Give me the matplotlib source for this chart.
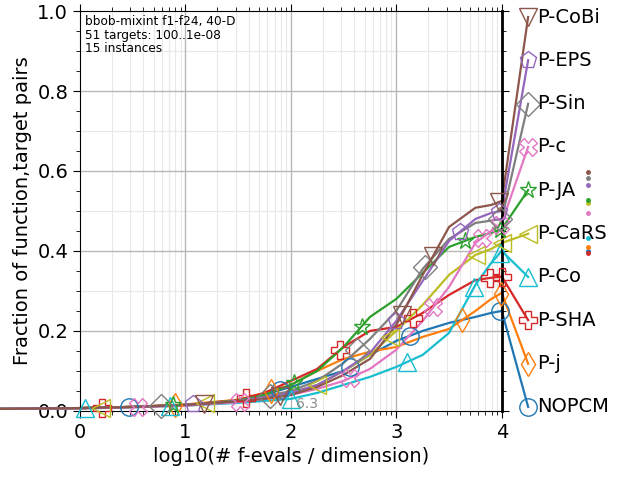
import numpy as np
import matplotlib
matplotlib.use("Agg")
import matplotlib.pyplot as plt
from matplotlib.ticker import MultipleLocator, FixedLocator

xs = [-0.75, 0, 0.5, 1, 1.5, 1.75, 2, 2.25, 2.5, 2.75, 3, 3.25, 3.5, 3.75, 3.9, 4]

algs = ["NOPCM", "P-j", "P-SHA", "P-Co", "P-CaRS", "P-JA", "P-c", "P-Sin", "P-EPS", "P-CoBi"]
colors = ["#1f77b4", "#ff7f0e", "#d62728", "#17becf", "#bcbd22",
          "#2ca02c", "#e377c2", "#7f7f7f", "#9467bd", "#8c564b"]
markers = ["o", "d", "P", "^", "<", "*", "X", "D", "p", "v"]

ecdf_nopcm = [0.005, 0.007, 0.01, 0.015, 0.025, 0.04, 0.06, 0.08, 0.10, 0.14, 0.175, 0.20, 0.22, 0.235, 0.245, 0.25]
ecdf_pj = [0.005, 0.007, 0.01, 0.016, 0.028, 0.045, 0.065, 0.10, 0.13, 0.148, 0.16, 0.185, 0.205, 0.25, 0.28, 0.295]
ecdf_psha = [0.005, 0.007, 0.01, 0.015, 0.027, 0.045, 0.075, 0.105, 0.16, 0.20, 0.21, 0.245, 0.29, 0.327, 0.333, 0.336]
ecdf_pco = [0.005, 0.006, 0.009, 0.013, 0.02, 0.025, 0.03, 0.045, 0.065, 0.085, 0.11, 0.14, 0.195, 0.315, 0.37, 0.40]
ecdf_pcars = [0.005, 0.007, 0.01, 0.015, 0.025, 0.035, 0.045, 0.065, 0.10, 0.14, 0.20, 0.265, 0.34, 0.39, 0.405, 0.42]
ecdf_pja = [0.005, 0.007, 0.01, 0.015, 0.026, 0.04, 0.065, 0.10, 0.16, 0.235, 0.28, 0.345, 0.41, 0.435, 0.445, 0.455]
ecdf_pc = [0.005, 0.006, 0.009, 0.013, 0.022, 0.03, 0.04, 0.055, 0.075, 0.105, 0.153, 0.225, 0.31, 0.42, 0.45, 0.47]
ecdf_psin = [0.005, 0.007, 0.01, 0.015, 0.025, 0.035, 0.05, 0.075, 0.12, 0.18, 0.25, 0.355, 0.43, 0.47, 0.476, 0.48]
ecdf_peps = [0.005, 0.007, 0.01, 0.015, 0.024, 0.033, 0.045, 0.065, 0.10, 0.145, 0.225, 0.325, 0.425, 0.48, 0.495, 0.50]
ecdf_pcobi = [0.005, 0.007, 0.01, 0.015, 0.024, 0.03, 0.04, 0.06, 0.09, 0.13, 0.215, 0.34, 0.46, 0.508, 0.515, 0.525]
ecdfs = [ecdf_nopcm, ecdf_pj, ecdf_psha, ecdf_pco, ecdf_pcars,
         ecdf_pja, ecdf_pc, ecdf_psin, ecdf_peps, ecdf_pcobi]

# where the markers sit along each curve (x only)
marker_x = [
    [0.46, 1.9, 2.56, 3.13, 3.98],
    [0.9, 1.81, 3.62, 3.99],
    [0.21, 1.57, 2.47, 3.16, 3.89, 4.0],
    [0.05, 0.85, 2.0, 3.1, 3.74, 3.98],
    [0.2, 1.19, 2.25, 2.94, 3.76, 4.0],
    [0.88, 2.03, 2.67, 3.65, 3.98],
    [0.55, 1.52, 2.56, 3.35, 3.81, 3.98],
    [0.77, 1.8, 2.63, 3.27, 3.98],
    [1.07, 3.0, 3.6, 3.97],
    [1.18, 1.9, 3.05, 3.35, 3.97],
]

# label heights on the right (NOPCM at bottom ... P-CoBi at top)
label_y = [0.01, 0.118, 0.227, 0.335, 0.443, 0.552, 0.66, 0.768, 0.877, 0.985]
# small dots at far right
dot_y = [0.40, 0.41, 0.395, 0.4325, 0.52, 0.5275, 0.495, 0.583, 0.565, 0.598]

fig = plt.figure(figsize=(6.4, 4.8), dpi=100)
ax = fig.add_axes([0.125, 0.144, 0.659, 0.833])

# grid
for k in range(4):
    for m in range(2, 10):
        ax.axvline(k + np.log10(m), color="#e8e8e8", lw=0.8, zorder=0)
for yv in [0.1, 0.3, 0.5, 0.7, 0.9]:
    ax.axhline(yv, color="#e8e8e8", lw=0.8, zorder=0)
for xv in [1, 2, 3]:
    ax.axvline(xv, color="#b8b8b8", lw=1.0, zorder=0.5)
for yv in [0.2, 0.4, 0.6, 0.8]:
    ax.axhline(yv, color="#b8b8b8", lw=1.0, zorder=0.5)

for i, name in enumerate(algs):
    c = colors[i]
    ax.plot(xs, ecdfs[i], color=c, lw=1.6, clip_on=False, zorder=2)
    mx = np.array(marker_x[i])
    my = np.interp(mx, xs, ecdfs[i])
    ax.plot(mx, my, ls="none", marker=markers[i], ms=12.5, mfc="none",
            mec=c, mew=1.0, clip_on=False, zorder=3)
    # line to the label on the right
    ax.plot([4, 4.25], [ecdfs[i][-1], label_y[i]], color=c, lw=1.6,
            clip_on=False, zorder=2)
    ax.plot(4.25, label_y[i], ls="none", marker=markers[i], ms=12.5, mfc="none",
            mec=c, mew=1.0, clip_on=False, zorder=3)
    ax.text(4.34, label_y[i], name, fontsize=14, va="center", ha="left")
    ax.plot(4.82, dot_y[i], ls="none", marker="o", ms=2.5, color=c, clip_on=False)

ax.text(2.05, 0.017, "6.3", color="#8a8a8a", fontsize=10, va="center")

ax.text(0.05, 0.99, "bbob-mixint f1-f24, 40-D\n51 targets: 100..1e-08\n15 instances",
        fontsize=8.7, va="top", ha="left", linespacing=1.05)

ax.set_xlim(0, 4)
ax.set_ylim(0, 1)
ax.xaxis.set_major_locator(FixedLocator([0, 1, 2, 3, 4]))
ax.xaxis.set_minor_locator(FixedLocator([k + np.log10(m) for k in range(4) for m in range(2, 10)]))
ax.yaxis.set_major_locator(MultipleLocator(0.2))
ax.yaxis.set_minor_locator(MultipleLocator(0.05))
ax.tick_params(which="both", direction="out", top=True, right=True, labelsize=14)
ax.tick_params(which="major", length=5)
ax.tick_params(which="minor", length=3)
ax.spines["right"].set_linewidth(2)
ax.set_xlabel("log10(# f-evals / dimension)", fontsize=14)
ax.set_ylabel("Fraction of function,target pairs", fontsize=14)

fig.savefig("out.png", dpi=100)
